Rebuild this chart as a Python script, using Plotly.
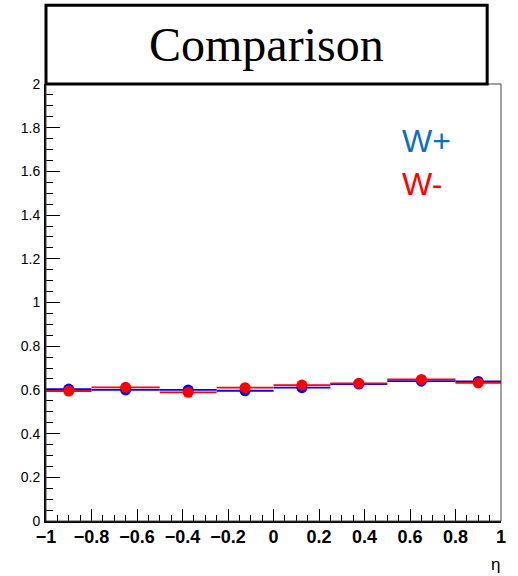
import plotly.graph_objects as go

# Data
bin_edges = [-1.0, -0.8, -0.5, -0.25, 0.0, 0.25, 0.5, 0.8, 1.0]
w_plus = [0.604, 0.600, 0.600, 0.596, 0.610, 0.627, 0.640, 0.639]
w_minus = [0.595, 0.612, 0.589, 0.610, 0.622, 0.630, 0.648, 0.632]
x_tick_vals = [-1, -0.8, -0.6, -0.4, -0.2, 0, 0.2, 0.4, 0.6, 0.8, 1]
x_tick_text = ["−1", "−0.8", "−0.6", "−0.4", "−0.2", "0", "0.2", "0.4", "0.6", "0.8", "1"]
y_tick_vals = [0, 0.2, 0.4, 0.6, 0.8, 1, 1.2, 1.4, 1.6, 1.8, 2]
y_tick_text = ["0", "0.2", "0.4", "0.6", "0.8", "1", "1.2", "1.4", "1.6", "1.8", "2"]

centers = [(a + b) / 2 for a, b in zip(bin_edges[:-1], bin_edges[1:])]
half_widths = [(b - a) / 2 for a, b in zip(bin_edges[:-1], bin_edges[1:])]

fig = go.Figure()
for vals, col in [(w_plus, "#0000ff"), (w_minus, "#ff0000")]:
    fig.add_trace(go.Scatter(
        x=centers, y=vals, mode="markers",
        marker=dict(color=col, size=11),
        error_x=dict(type="data", array=half_widths, width=0, thickness=1.8, color=col),
        showlegend=False, cliponaxis=False,
    ))

fig.update_layout(
    width=518, height=576,
    margin=dict(l=46, r=12, t=84, b=55),
    paper_bgcolor="white", plot_bgcolor="white",
    font=dict(family="Liberation Sans, Arial, sans-serif", color="black"),
    showlegend=False,
)
fig.update_xaxes(
    range=[-1, 1], showgrid=False, zeroline=False,
    showline=True, linecolor="black", linewidth=2,
    ticks="inside", ticklen=12, tickwidth=1, tickcolor="black",
    tickvals=x_tick_vals, ticktext=["<b>%s</b>" % t for t in x_tick_text],
    tickfont=dict(size=18, family="Liberation Sans, Arial, sans-serif"),
    minor=dict(ticks="inside", ticklen=6, dtick=0.05, tick0=0, tickcolor="black", tickwidth=1),
    ticklabelstandoff=-2,
)
fig.update_yaxes(
    range=[0, 2], showgrid=False, zeroline=False,
    showline=True, linecolor="black", linewidth=2,
    ticks="inside", ticklen=14, tickwidth=1, tickcolor="black",
    tickvals=y_tick_vals, ticktext=y_tick_text,
    tickfont=dict(size=14, family="Liberation Sans, Arial, sans-serif"),
    minor=dict(ticks="inside", ticklen=7, dtick=0.05, tick0=0, tickcolor="black", tickwidth=1),
    ticklabelstandoff=1,
)

# frame (top/right)
fig.add_shape(type="rect", xref="paper", yref="paper", x0=0, x1=1, y0=0, y1=1,
              line=dict(color="#444444", width=1), layer="above")
# title box
fig.add_shape(type="rect", xref="paper", yref="paper", x0=0, x1=0.9696, y0=1.0, y1=1.18,
              line=dict(color="black", width=3), fillcolor="white", layer="above")
fig.add_annotation(text="Comparison", xref="paper", yref="paper", x=0.485, y=1.09,
                   showarrow=False, xanchor="center", yanchor="middle",
                   font=dict(family="Liberation Serif, Times New Roman, serif", size=48, color="black"))
# legend texts
fig.add_annotation(text="W+", xref="paper", yref="paper", x=0.778, y=0.870,
                   showarrow=False, xanchor="left", yanchor="middle",
                   font=dict(size=32, color="#0c6fc4"))
fig.add_annotation(text="W-", xref="paper", yref="paper", x=0.778, y=0.772,
                   showarrow=False, xanchor="left", yanchor="middle",
                   font=dict(size=32, color="#ff0000"))
# axis title
fig.add_annotation(text="η", xref="paper", yref="paper", x=0.988, y=-0.10,
                   showarrow=False, xanchor="center", yanchor="middle",
                   font=dict(size=17, color="black"))

fig.write_html("out.html")
